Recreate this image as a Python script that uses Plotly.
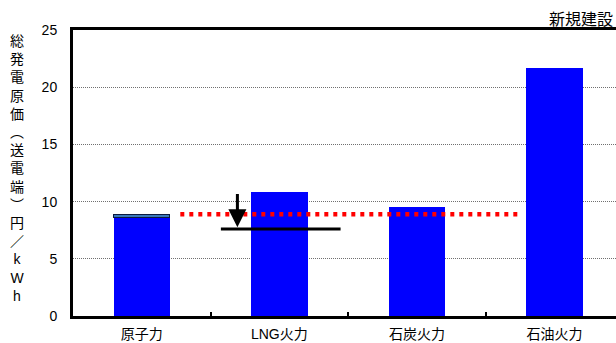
import plotly.graph_objects as go

categories = ["原子力", "LNG火力", "石炭火力", "石油火力"]
main_cost = [8.6, 10.8, 9.5, 21.7]
top_segment = [0.25, None, None, None]
y_ticks = [0, 5, 10, 15, 20, 25]
title_text = "新規建設"
y_title = ["総", "発", "電", "原", "価", "︵", "送", "電", "端", "︶", "円", "／", "k", "W", "h"]

# reference lines (data coordinates)
ref_level = 8.9          # red dotted line
ref_x = [0.28, 2.75]
target_level = 7.6       # black line
target_x = [0.575, 1.445]
arrow_x = 0.695
arrow_from = 10.8
arrow_to = 7.75

x_pos = list(range(len(categories)))
FONT = "Liberation Sans, Arial, Noto Sans CJK JP"

fig = go.Figure()
fig.add_trace(go.Bar(x=x_pos, y=main_cost, marker=dict(color="#0000FF", line=dict(width=0)),
                     width=0.41, showlegend=False))
fig.add_trace(go.Bar(x=x_pos, y=top_segment, marker=dict(color="#3A78B8", line=dict(color="#0A1A40", width=1)),
                     width=0.41, showlegend=False))
fig.add_trace(go.Scatter(x=ref_x, y=[ref_level, ref_level], mode="lines",
                         line=dict(color="#FF0000", width=4.5, dash="4px,5px"), showlegend=False))
fig.add_trace(go.Scatter(x=target_x, y=[target_level, target_level], mode="lines",
                         line=dict(color="#000000", width=3), showlegend=False))

fig.add_annotation(x=arrow_x, y=arrow_to, ax=arrow_x, ay=arrow_from, xref="x", yref="y",
                   axref="x", ayref="y", showarrow=True, arrowhead=2, arrowsize=1.2,
                   arrowwidth=3, arrowcolor="#000000", text="")

fig.add_annotation(x=1, y=1, xref="paper", yref="paper", xanchor="right", yanchor="bottom",
                   text=title_text, showarrow=False, yshift=0, xshift=-1,
                   font=dict(size=16, color="#000000", family=FONT))

fig.add_annotation(x=-56 / 543, y=(343 - 168 - 27) / 286, xref="paper", yref="paper",
                   text="<br>".join(y_title),
                   showarrow=False, font=dict(size=14, color="#000000", family=FONT),
                   xanchor="center", yanchor="middle")

fig.update_layout(
    width=616, height=343,
    margin=dict(l=73, r=0, t=30, b=27),
    barmode="stack",
    plot_bgcolor="#FFFFFF", paper_bgcolor="#FFFFFF",
    font=dict(family=FONT, size=14, color="#000000"),
    xaxis=dict(range=[-0.5, 3.447], tickmode="array", tickvals=x_pos, ticktext=categories,
               ticks="", showgrid=False, zeroline=False, automargin=False,
               showline=True, linecolor="#000000", linewidth=3, mirror=True,
               tickfont=dict(size=14), ticklabelstandoff=3,
               minor=dict(tickvals=[0.5, 1.5, 2.5], ticks="inside", ticklen=4,
                          tickcolor="#000000", tickwidth=1.5, showgrid=False)),
    yaxis=dict(range=[0, 25], tickvals=y_ticks, ticks="", showgrid=True, automargin=False,
               gridcolor="#707070", gridwidth=1, griddash="1px,1px", zeroline=False,
               showline=True, linecolor="#000000", linewidth=3,
               tickfont=dict(size=14), ticklabelstandoff=10),
)

fig.write_html("out.html")
